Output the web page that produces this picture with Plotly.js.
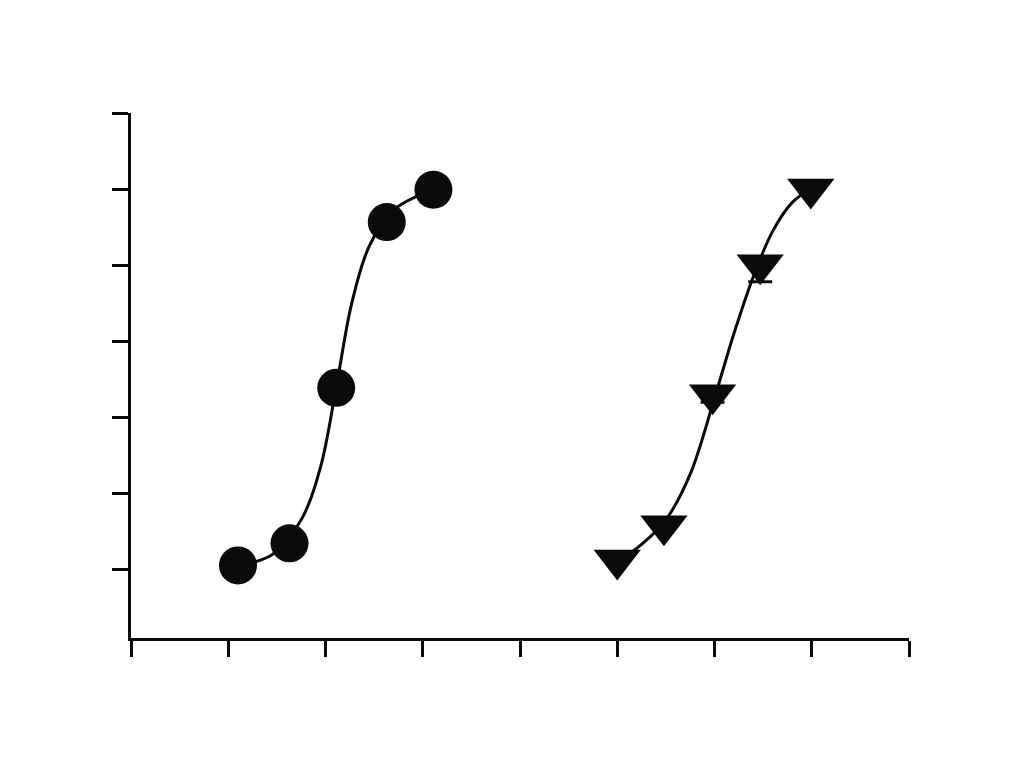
<!DOCTYPE html>
<html>
<head>
<meta charset="utf-8">
<script src="https://cdn.plot.ly/plotly-3.0.1.min.js"></script>
<style>html,body{margin:0;padding:0;background:#fff;}#chart{width:1024px;height:768px;}</style>
</head>
<body>
<div id="chart"></div>
<script>
// Series A (circles)
var circleX = [1.10, 1.63, 2.11, 2.63, 3.11];
var circleY = [1.0, 6.8, 47.7, 91.3, 99.8];
// Fitted curve A
var curveAX = [1.10, 1.45, 1.75, 1.95, 2.11, 2.27, 2.45, 2.70, 3.10];
var curveAY = [1.0, 3.8, 13.0, 27.0, 47.8, 70.0, 85.0, 94.5, 99.8];
// Series B (down triangles)
var triX = [5.00, 5.48, 5.98, 6.47, 6.99];
var triY = [2.4, 11.4, 45.9, 80.1, 100.0];
var triErrMinus = [0, 0, 2.0, 4.5, 0];
// Fitted curve B
var curveBX = [5.00, 5.25, 5.50, 5.75, 6.00, 6.20, 6.40, 6.60, 6.80, 6.99];
var curveBY = [1.8, 6.5, 13.0, 25.0, 45.0, 62.0, 77.0, 89.0, 96.5, 100.0];
// Axis ticks
var xTicks = [0, 1, 2, 3, 4, 5, 6, 7, 8];
var yTicks = [0, 20, 40, 60, 80, 100, 120];

var ink = '#0a0a0c';
var traces = [
  {x: curveAX, y: curveAY, mode: 'lines', line: {color: ink, width: 3, shape: 'spline', smoothing: 1}, hoverinfo: 'skip', showlegend: false},
  {x: curveBX, y: curveBY, mode: 'lines', line: {color: ink, width: 3, shape: 'spline', smoothing: 1}, hoverinfo: 'skip', showlegend: false},
  {x: circleX, y: circleY, mode: 'markers', marker: {symbol: 'circle', size: 38, color: ink}, showlegend: false},
  {x: triX, y: triY, mode: 'markers', marker: {symbol: 'triangle-down', size: 41, color: ink},
   error_y: {type: 'data', symmetric: false, array: [0,0,0,0,0], arrayminus: triErrMinus, color: ink, thickness: 3, width: 12},
   showlegend: false}
];

var layout = {
  width: 1024, height: 768,
  margin: {l: 131, r: 115, t: 113, b: 130},
  paper_bgcolor: '#ffffff', plot_bgcolor: '#ffffff',
  showlegend: false,
  xaxis: {
    range: [0, 8], tickmode: 'array', tickvals: xTicks, showticklabels: false,
    ticks: 'outside', ticklen: 16, tickwidth: 3, tickcolor: ink,
    showline: true, linewidth: 3, linecolor: ink, showgrid: false, zeroline: false
  },
  yaxis: {
    range: [-18.1, 120], tickmode: 'array', tickvals: yTicks, showticklabels: false,
    ticks: 'outside', ticklen: 16, tickwidth: 3, tickcolor: ink,
    showline: true, linewidth: 3, linecolor: ink, showgrid: false, zeroline: false
  }
};

Plotly.newPlot('chart', traces, layout, {displayModeBar: false, staticPlot: true});
</script>
</body>
</html>
